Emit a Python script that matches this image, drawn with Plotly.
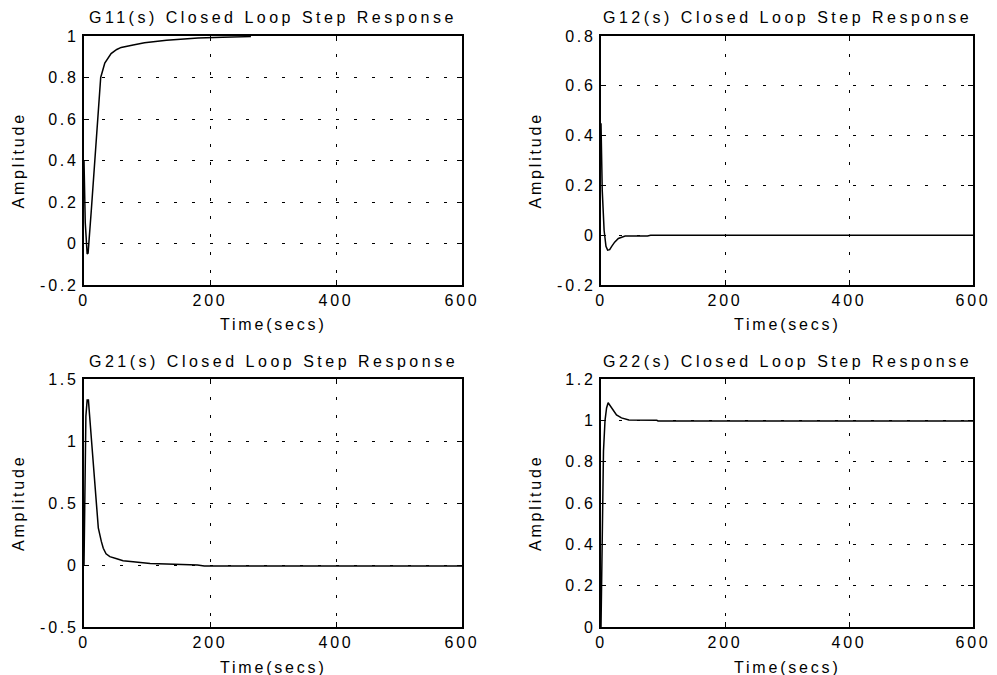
import plotly.graph_objects as go

# ---- data ----
t11 = [0, 2, 5, 6.5, 11.6, 17, 22, 26.5, 33, 43, 52, 59, 78, 96, 131, 181, 220, 265]
y11 = [0.40, 0.10, -0.05, -0.046, 0.16, 0.40, 0.63, 0.80, 0.87, 0.915, 0.935, 0.945, 0.957, 0.968, 0.98, 0.99, 0.994, 0.997]

t12 = [0, 2, 5, 8, 10.7, 14, 17, 22, 28, 39, 75, 80, 600]
y12 = [0.45, 0.18, 0.02, -0.045, -0.06, -0.058, -0.046, -0.028, -0.013, -0.003, -0.003, 0.0, 0.0]

t21 = [0, 1, 3, 5, 7, 12, 17.5, 22.7, 27.5, 30.6, 35, 41, 52, 62, 78, 105, 131, 180, 191, 600]
y21 = [0, 0.6, 1.2, 1.33, 1.33, 1.0, 0.6, 0.3, 0.19, 0.135, 0.09, 0.067, 0.05, 0.035, 0.027, 0.013, 0.008, 0.0, -0.008, -0.008]

t22 = [0, 2, 4, 6.5, 9, 11.5, 14, 17, 25, 33, 45, 90, 92, 600]
y22 = [0, 0.5, 0.85, 1.0, 1.06, 1.085, 1.075, 1.058, 1.026, 1.012, 1.002, 1.0, 0.997, 0.997]

titles = ["G11(s) Closed Loop Step Response", "G12(s) Closed Loop Step Response",
          "G21(s) Closed Loop Step Response", "G22(s) Closed Loop Step Response"]
xticks = [0, 200, 400, 600]
xticklabels = ["0", "200", "400", "600"]
yticks11 = [-0.2, 0, 0.2, 0.4, 0.6, 0.8, 1]
yticklabels11 = ["-0.2", "0", "0.2", "0.4", "0.6", "0.8", "1"]
yticks12 = [-0.2, 0, 0.2, 0.4, 0.6, 0.8]
yticklabels12 = ["-0.2", "0", "0.2", "0.4", "0.6", "0.8"]
yticks21 = [-0.5, 0, 0.5, 1, 1.5]
yticklabels21 = ["-0.5", "0", "0.5", "1", "1.5"]
yticks22 = [0, 0.2, 0.4, 0.6, 0.8, 1, 1.2]
yticklabels22 = ["0", "0.2", "0.4", "0.6", "0.8", "1", "1.2"]
xlabel = "Time(secs)"
ylabel = "Amplitude"

W, H = 997, 675
FONT = "Liberation Sans, Arial, sans-serif"
FS = 16


def sp(s, ls=2.8):
    return f'<span style="letter-spacing:{ls}px">{s}</span>'


# pixel boxes of each panel (left, right, top, bottom)
boxes = [(84, 462, 36, 285), (601, 973, 36, 285), (84, 462, 379, 627), (601, 973, 379, 627)]
series = [(t11, y11), (t12, y12), (t21, y21), (t22, y22)]
yt = [(yticks11, yticklabels11), (yticks12, yticklabels12), (yticks21, yticklabels21), (yticks22, yticklabels22)]

fig = go.Figure()
layout = dict(width=W, height=H, margin=dict(l=0, r=0, t=0, b=0, autoexpand=False),
              paper_bgcolor="white", plot_bgcolor="white", showlegend=False,
              font=dict(family=FONT, size=FS, color="black"))
annotations = []
for i, ((l, r, tp, bt), (tx, ty), (yv, yl)) in enumerate(zip(boxes, series, yt)):
    n = "" if i == 0 else str(i + 1)
    fig.add_trace(go.Scatter(x=tx, y=ty, mode="lines", line=dict(color="black", width=1.5),
                             xaxis="x" + n, yaxis="y" + n, hoverinfo="skip"))
    common = dict(showline=True, linecolor="black", linewidth=2, mirror="ticks",
                  ticks="inside", ticklen=5, tickcolor="black", tickwidth=1,
                  showgrid=True, gridcolor="black", gridwidth=1, griddash="3px,15px",
                  zeroline=False, automargin=False,
                  tickfont=dict(family=FONT, size=FS, color="black"))
    layout["xaxis" + n] = dict(common, domain=[l / W, r / W], range=[0, 600],
                               anchor="y" + n, tickmode="array", tickvals=xticks,
                               ticktext=[sp(s) for s in xticklabels])
    layout["yaxis" + n] = dict(common, domain=[1 - bt / H, 1 - tp / H], range=[yv[0], yv[-1]],
                               anchor="x" + n, tickmode="array", tickvals=yv,
                               ticktext=[sp(s) for s in yl])
    cx = (l + r) / 2 / W
    annotations.append(dict(text=sp(titles[i], 3.5), x=cx, y=1 - (tp - 18) / H, xref="paper", yref="paper",
                            xanchor="center", yanchor="middle", showarrow=False,
                            font=dict(family=FONT, size=FS, color="black")))
    annotations.append(dict(text=sp(xlabel), x=cx, y=1 - (bt + 40) / H, xref="paper", yref="paper",
                            xanchor="center", yanchor="middle", showarrow=False,
                            font=dict(family=FONT, size=FS, color="black")))
    annotations.append(dict(text=sp(ylabel), x=(l - 66) / W, y=1 - (tp + bt) / 2 / H, xref="paper", yref="paper",
                            xanchor="center", yanchor="middle", showarrow=False, textangle=-90,
                            font=dict(family=FONT, size=FS, color="black")))
layout["annotations"] = annotations
fig.update_layout(**layout)
fig.write_html("out.html", config={"displayModeBar": False},
               post_script="document.body.style.margin='0';document.body.style.padding='0';")
